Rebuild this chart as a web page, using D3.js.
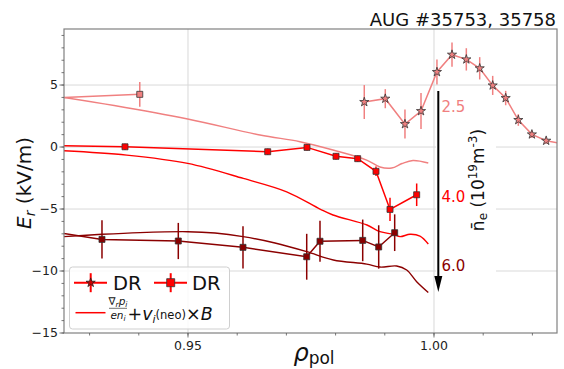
<!DOCTYPE html>
<html>
<head>
<meta charset="utf-8">
<script src="https://cdn.jsdelivr.net/npm/d3@7"></script>
<style>
  body { margin: 0; background: #fff; }
  svg { display: block; font-family: "DejaVu Sans", sans-serif; }
</style>
</head>
<body>
<svg id="chart" width="564" height="369"></svg>
<script>
// ---- Measured Er profiles (Doppler reflectometry) ----
// n_e = 2.5e19 m^-3 : star markers
const starRho = [0.98583, 0.99010, 0.99410, 0.99736, 1.00060, 1.00366, 1.00657, 1.00929, 1.01193, 1.01457, 1.01714, 1.01990, 1.02280, 1.03000];
const starEr  = [3.63, 3.90, 1.85, 2.90, 6.05, 7.45, 7.07, 6.35, 4.97, 3.95, 2.18, 1.02, 0.51, 0.00];
const starErr = [1.37, 0.77, 1.17, 1.45, 1.00, 0.98, 0.90, 0.90, 0.77, 0.58, 0.47, 0.30, 0.25, 0];

// n_e = 2.5e19 m^-3 : square markers
const sqLowRho = [0.9200, 0.9402];
const sqLowEr  = [3.92, 4.25];
const sqLowErr = [0, 1.0];

// n_e = 4.0e19 m^-3 : square markers
const sqMidRho = [0.9200, 0.9372, 0.9662, 0.97419, 0.98008, 0.98449, 0.98821, 0.99106, 0.99648];
const sqMidEr  = [0.14, 0.02, -0.38, -0.03, -0.75, -0.94, -1.96, -5.03, -3.85];
const sqMidErr = [0, 0.25, 0.25, 0.25, 0.25, 0.25, 0.38, 0.94, 0.91];

// n_e = 6.0e19 m^-3 : square markers
const sqHighRho = [0.9200, 0.93252, 0.94803, 0.96118, 0.97413, 0.97683, 0.98551, 0.98876, 0.99201];
const sqHighEr  = [-6.69, -7.45, -7.58, -8.09, -8.85, -7.60, -7.53, -8.06, -6.91];
const sqHighErr = [0, 1.55, 1.46, 1.70, 1.85, 1.65, 1.68, 1.75, 1.48];

// ---- Neoclassical prediction: grad(p_i)/(e n_i) + v_i(neo) x B ----
const modelLowRho = [0.92480, 0.93500, 0.94994, 0.96463, 0.97276, 0.97947, 0.98632, 0.98902, 0.99140, 0.99350, 0.99573, 0.99884];
const modelLowEr  = [4.00, 3.35, 2.26, 0.97, 0.43, -0.24, -1.05, -1.61, -1.69, -1.33, -1.09, -1.29];

const modelMidRho = [0.92480, 0.93754, 0.94994, 0.96124, 0.97006, 0.97683, 0.97947, 0.98638, 0.98902, 0.99173, 0.99309, 0.99512, 0.99715, 0.99884];
const modelMidEr  = [-0.30, -0.65, -1.32, -2.53, -3.61, -5.00, -5.48, -6.29, -6.83, -7.04, -7.23, -7.04, -7.18, -7.82];

const modelHighRho = [0.92480, 0.93252, 0.94024, 0.94994, 0.95550, 0.96118, 0.96768, 0.97413, 0.97953, 0.98632, 0.98902, 0.99242, 0.99445, 0.99648, 0.99884];
const modelHighEr  = [-7.23, -7.04, -6.90, -6.83, -6.94, -7.23, -7.74, -8.44, -9.11, -9.44, -9.68, -9.60, -9.92, -10.86, -11.73];

// ---- Axis ticks and labels ----
const xMajorTicks = [0.95, 1.00];
const xMinorTicks = [0.93, 0.94, 0.95, 0.96, 0.97, 0.98, 0.99, 1.00, 1.01, 1.02];
const yMajorTicks = [-15, -10, -5, 0, 5];
const yMinorTicks = d3.range(-15, 10, 1);
const densityLabels = ["2.5", "4.0", "6.0"];
const titleText = "AUG #35753, 35758";

const colLow = "#f08080", colMid = "#ff0000", colHigh = "#8b0000";

// ---- Layout ----
const svg = d3.select("#chart");
const m = { left: 64, right: 557, top: 29, bottom: 333 };
const x = d3.scaleLinear().domain([0.9248, 1.025]).range([m.left, m.right]);
const y = d3.scaleLinear().domain([-15, 9.52]).range([m.bottom, m.top]);

svg.append("defs").append("clipPath").attr("id", "plotClip")
  .append("rect").attr("x", m.left).attr("y", m.top)
  .attr("width", m.right - m.left).attr("height", m.bottom - m.top);

// grid
const grid = svg.append("g");
grid.selectAll(".gx").data(xMajorTicks).join("line")
  .attr("x1", d => x(d)).attr("x2", d => x(d)).attr("y1", m.top).attr("y2", m.bottom)
  .attr("stroke", "#d9d9d9").attr("stroke-width", 1);
grid.selectAll(".gy").data(yMajorTicks.filter(d => d > -15)).join("line")
  .attr("x1", m.left).attr("x2", m.right).attr("y1", d => y(d)).attr("y2", d => y(d))
  .attr("stroke", "#d9d9d9").attr("stroke-width", 1);

// white backing behind the density annotation
svg.append("rect").attr("x", 436).attr("y", 89).attr("width", 60).attr("height", 212).attr("fill", "#fff");

const plot = svg.append("g").attr("clip-path", "url(#plotClip)");

const line = d3.line().x(d => x(d[0])).y(d => y(d[1]));
const smooth = d3.line().x(d => x(d[0])).y(d => y(d[1])).curve(d3.curveCatmullRom.alpha(0.5));
const zip = (a, b, c) => a.map((v, i) => [v, b[i], c ? c[i] : 0]);

// model curves
[[modelLowRho, modelLowEr, colLow], [modelMidRho, modelMidEr, colMid], [modelHighRho, modelHighEr, colHigh]]
  .forEach(([r, e, c]) => {
    plot.append("path").datum(zip(r, e)).attr("d", smooth)
      .attr("fill", "none").attr("stroke", c).attr("stroke-width", 1.4);
  });

// measured series
const series = [
  { rho: starRho, er: starEr, err: starErr, col: colLow, marker: "star" },
  { rho: sqLowRho, er: sqLowEr, err: sqLowErr, col: colLow, marker: "square" },
  { rho: sqMidRho, er: sqMidEr, err: sqMidErr, col: colMid, marker: "square" },
  { rho: sqHighRho, er: sqHighEr, err: sqHighErr, col: colHigh, marker: "square" }
];
const starPath = d3.symbol().type(d3.symbolStar).size(26)();

series.forEach(s => {
  const pts = zip(s.rho, s.er, s.err);
  plot.append("path").datum(pts).attr("d", line)
    .attr("fill", "none").attr("stroke", s.col).attr("stroke-width", 1.5);
  plot.append("g").selectAll("line").data(pts.filter(p => p[2] > 0)).join("line")
    .attr("x1", p => x(p[0])).attr("x2", p => x(p[0]))
    .attr("y1", p => y(p[1] - p[2])).attr("y2", p => y(p[1] + p[2]))
    .attr("stroke", s.col).attr("stroke-width", 1.5);
  const mk = plot.append("g").selectAll("path").data(pts).join("path")
    .attr("transform", p => `translate(${x(p[0])},${y(p[1])})`)
    .attr("fill", s.col).attr("stroke", "#333").attr("stroke-width", 0.8);
  if (s.marker === "star") mk.attr("d", starPath);
  else mk.attr("d", "M-3,-3H3V3H-3Z");
});

// axes frame
svg.append("rect").attr("x", m.left).attr("y", m.top)
  .attr("width", m.right - m.left).attr("height", m.bottom - m.top)
  .attr("fill", "none").attr("stroke", "#808080").attr("stroke-width", 1.2);

// ticks
const tk = svg.append("g").attr("stroke", "#555").attr("stroke-width", 0.8);
tk.selectAll(".ymn").data(yMinorTicks).join("line")
  .attr("x1", m.left - 2.5).attr("x2", m.left).attr("y1", d => y(d)).attr("y2", d => y(d));
tk.selectAll(".ymj").data(yMajorTicks).join("line")
  .attr("x1", m.left - 4.5).attr("x2", m.left).attr("y1", d => y(d)).attr("y2", d => y(d));
tk.selectAll(".xmn").data(xMinorTicks).join("line")
  .attr("x1", d => x(d)).attr("x2", d => x(d)).attr("y1", m.bottom).attr("y2", m.bottom + 2.5);
tk.selectAll(".xmj").data(xMajorTicks).join("line")
  .attr("x1", d => x(d)).attr("x2", d => x(d)).attr("y1", m.bottom).attr("y2", m.bottom + 4.5);

const fmtY = d => d < 0 ? "\u2212" + Math.abs(d) : String(d);
svg.append("g").selectAll("text").data(yMajorTicks).join("text")
  .attr("x", m.left - 6).attr("y", d => y(d)).attr("dy", "0.35em")
  .attr("text-anchor", "end").attr("font-size", 12.5).attr("fill", "#222").text(fmtY);
svg.append("g").selectAll("text").data(xMajorTicks).join("text")
  .attr("x", d => x(d)).attr("y", 350)
  .attr("text-anchor", "middle").attr("font-size", 12.5).attr("fill", "#222").text(d => d.toFixed(2));

// axis labels
const yl = svg.append("text").attr("transform", "translate(31,183) rotate(-90)")
  .attr("text-anchor", "middle").attr("font-size", 20).attr("fill", "#111");
yl.append("tspan").attr("font-style", "italic").text("E");
yl.append("tspan").attr("font-style", "italic").attr("font-size", 14).attr("dy", 4).text("r");
yl.append("tspan").attr("dy", -4).text(" (kV/m)");

const xl = svg.append("text").attr("x", 314).attr("y", 361)
  .attr("text-anchor", "middle").attr("font-size", 24).attr("fill", "#111");
xl.append("tspan").attr("font-style", "italic").text("ρ");
xl.append("tspan").attr("font-size", 17).attr("dy", 3).text("pol");

// title
svg.append("text").attr("x", 556).attr("y", 26).attr("text-anchor", "end")
  .attr("font-size", 18).attr("fill", "#111").text(titleText);

// density arrow and labels
svg.append("line").attr("x1", 438.3).attr("x2", 438.3).attr("y1", 91).attr("y2", 278)
  .attr("stroke", "#000").attr("stroke-width", 2);
svg.append("path").attr("d", "M434.3,276 L442.3,276 L438.3,292 Z").attr("fill", "#000");
const labY = [111.5, 201.5, 270.5];
[colLow, colMid, colHigh].forEach((c, i) => {
  svg.append("text").attr("x", 441.5).attr("y", labY[i]).attr("font-size", 15)
    .attr("fill", c).text(densityLabels[i]);
});
const nl = svg.append("text").attr("transform", "translate(484,180) rotate(-90)")
  .attr("text-anchor", "middle").attr("font-size", 17).attr("fill", "#111");
nl.append("tspan").text("n\u0304");
nl.append("tspan").attr("font-size", 12).attr("dy", 3).text("e");
nl.append("tspan").attr("dy", -3).text(" (10");
nl.append("tspan").attr("font-size", 12).attr("dy", -7).text("19");
nl.append("tspan").attr("dy", 7).text("m");
nl.append("tspan").attr("font-size", 12).attr("dy", -7).text("-3");
nl.append("tspan").attr("dy", 7).text(")");

// legend
const lg = svg.append("g");
lg.append("rect").attr("x", 69.5).attr("y", 267).attr("width", 160).attr("height", 62).attr("rx", 3)
  .attr("fill", "#fff").attr("fill-opacity", 0.85).attr("stroke", "#cfcfcf");
const ly1 = 282.7;
// star entry
lg.append("line").attr("x1", 74).attr("x2", 107).attr("y1", ly1).attr("y2", ly1).attr("stroke", colMid).attr("stroke-width", 2);
lg.append("line").attr("x1", 90.7).attr("x2", 90.7).attr("y1", ly1 - 9.5).attr("y2", ly1 + 9.5).attr("stroke", colMid).attr("stroke-width", 2);
lg.append("path").attr("d", starPath).attr("transform", `translate(90.7,${ly1})`)
  .attr("fill", "#cc0000").attr("stroke", "#222").attr("stroke-width", 0.8);
lg.append("text").attr("x", 113).attr("y", 289.5).attr("font-size", 19.5).attr("fill", "#111").text("DR");
// square entry
lg.append("line").attr("x1", 154).attr("x2", 187).attr("y1", ly1).attr("y2", ly1).attr("stroke", colMid).attr("stroke-width", 2);
lg.append("line").attr("x1", 170.7).attr("x2", 170.7).attr("y1", ly1 - 9.5).attr("y2", ly1 + 9.5).attr("stroke", colMid).attr("stroke-width", 2);
lg.append("path").attr("d", "M-4,-4H4V4H-4Z").attr("transform", `translate(170.7,${ly1})`)
  .attr("fill", colMid).attr("stroke", "#333").attr("stroke-width", 0.8);
lg.append("text").attr("x", 192).attr("y", 289.5).attr("font-size", 19.5).attr("fill", "#111").text("DR");
// model entry
lg.append("line").attr("x1", 75.5).attr("x2", 105.5).attr("y1", 312.7).attr("y2", 312.7).attr("stroke", colMid).attr("stroke-width", 1.5);
const num = lg.append("text").attr("x", 118).attr("y", 305).attr("text-anchor", "middle").attr("font-size", 10.5).attr("fill", "#111");
num.append("tspan").text("\u2207");
num.append("tspan").attr("font-style", "italic").attr("font-size", 7.5).attr("dy", 2).text("r");
num.append("tspan").attr("font-style", "italic").attr("dy", -2).text("p");
num.append("tspan").attr("font-style", "italic").attr("font-size", 7.5).attr("dy", 2).text("i");
lg.append("line").attr("x1", 109).attr("x2", 127).attr("y1", 308.3).attr("y2", 308.3).attr("stroke", "#111").attr("stroke-width", 0.6);
const den = lg.append("text").attr("x", 118).attr("y", 318.5).attr("text-anchor", "middle").attr("font-size", 10.5).attr("fill", "#111");
den.append("tspan").attr("font-style", "italic").text("en");
den.append("tspan").attr("font-style", "italic").attr("font-size", 7.5).attr("dy", 2).text("i");
const fx = lg.append("text").attr("x", 127.5).attr("y", 319.5).attr("font-size", 17.5).attr("fill", "#111");
fx.append("tspan").text("+");
fx.append("tspan").attr("font-style", "italic").text("v");
fx.append("tspan").attr("font-style", "italic").attr("font-size", 11).attr("dy", 3).text("i");
fx.append("tspan").attr("font-size", 11.5).attr("dy", -4).text("(neo)");
fx.append("tspan").attr("dy", 1).text("\u00d7");
fx.append("tspan").attr("font-style", "italic").text("B");
</script>
</body>
</html>
